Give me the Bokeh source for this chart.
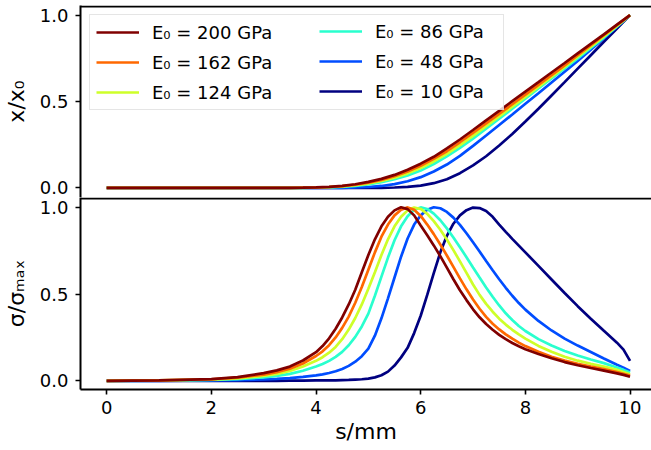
from bokeh.plotting import figure
from bokeh.layouts import column
from bokeh.models import Span, Legend, LegendItem, FixedTicker, NumeralTickFormatter, Range1d
from bokeh.embed import file_html
from bokeh.resources import INLINE

FONT = "DejaVu Sans"

moduli_gpa = [200, 162, 124, 86, 48, 10]
colors = ["#800000", "#ff6800", "#ceff29", "#29ffce", "#004dff", "#000080"]

# ---- upper panel: normalised displacement x/x0 against s (mm)
s_disp = [0, 1, 2, 2.5, 3, 3.25, 3.5, 3.75, 4, 4.25, 4.5, 4.75, 5, 5.25, 5.5, 5.75,
          6, 6.25, 6.5, 6.75, 7, 7.25, 7.5, 7.75, 8, 8.25, 8.5, 8.75, 9, 9.25, 9.5, 9.75, 10]
disp_200 = [0, 0, 0, 0, 0, 0, 0, 0.001, 0.003, 0.006, 0.012, 0.021, 0.035, 0.052, 0.075, 0.105,
            0.14, 0.18, 0.228, 0.28, 0.335, 0.391, 0.446, 0.502, 0.557, 0.612, 0.668, 0.723,
            0.779, 0.834, 0.889, 0.945, 1.0]
disp_162 = [0, 0, 0, 0, 0, 0, 0, 0.001, 0.002, 0.005, 0.01, 0.018, 0.03, 0.046, 0.067, 0.095,
            0.128, 0.168, 0.212, 0.264, 0.318, 0.373, 0.428, 0.484, 0.54, 0.596, 0.652, 0.709,
            0.768, 0.826, 0.884, 0.942, 1.0]
disp_124 = [0, 0, 0, 0, 0, 0, 0, 0, 0.002, 0.004, 0.008, 0.015, 0.025, 0.04, 0.059, 0.084,
            0.115, 0.153, 0.197, 0.248, 0.301, 0.357, 0.413, 0.47, 0.527, 0.585, 0.642, 0.7,
            0.759, 0.818, 0.877, 0.938, 1.0]
disp_86 = [0, 0, 0, 0, 0, 0, 0, 0, 0.001, 0.003, 0.006, 0.012, 0.02, 0.033, 0.05, 0.072,
           0.1, 0.138, 0.182, 0.232, 0.285, 0.342, 0.4, 0.458, 0.516, 0.575, 0.633, 0.692,
           0.75, 0.81, 0.87, 0.935, 1.0]
disp_48 = [0, 0, 0, 0, 0, 0, 0, 0, 0, 0, 0, 0.002, 0.005, 0.011, 0.022, 0.038,
           0.062, 0.095, 0.135, 0.185, 0.243, 0.303, 0.364, 0.425, 0.487, 0.548, 0.61, 0.672,
           0.735, 0.8, 0.866, 0.933, 1.0]
disp_10 = [0, 0, 0, 0, 0, 0, 0, 0, 0, 0, 0, 0, 0, 0, 0.002, 0.006,
           0.013, 0.027, 0.05, 0.085, 0.13, 0.183, 0.245, 0.312, 0.384, 0.458, 0.535, 0.612,
           0.69, 0.768, 0.846, 0.923, 1.0]

# ---- lower panel: normalised stress sigma/sigma_max against s (mm)
s_stress = [0, 1, 2, 2.5, 3, 3.25, 3.5, 3.75,
            4, 4.125, 4.25, 4.375, 4.5, 4.625, 4.75, 4.875, 5, 5.125, 5.25, 5.375,
            5.5, 5.625, 5.75, 5.875, 6, 6.125, 6.25, 6.375, 6.5, 6.625, 6.75, 6.875,
            7, 7.125, 7.25, 7.375, 7.5, 7.625, 7.75, 7.875, 8,
            8.25, 8.5, 8.75, 9, 9.25, 9.5, 9.75, 9.875, 10]
stress_200 = [0, 0.003, 0.01, 0.021, 0.044, 0.06, 0.082, 0.117,
              0.165, 0.2, 0.245, 0.3, 0.365, 0.44, 0.525, 0.625, 0.725, 0.815, 0.89, 0.945,
              0.982, 1.0, 0.989, 0.953, 0.895, 0.838, 0.78, 0.718, 0.652, 0.585, 0.522, 0.465,
              0.412, 0.366, 0.327, 0.294, 0.265, 0.24, 0.218, 0.199, 0.182,
              0.155, 0.13, 0.108, 0.09, 0.074, 0.059, 0.043, 0.034, 0.023]
stress_162 = [0, 0.003, 0.009, 0.018, 0.036, 0.05, 0.07, 0.1,
              0.143, 0.17, 0.205, 0.25, 0.305, 0.37, 0.45, 0.54, 0.64, 0.74, 0.83, 0.9,
              0.953, 0.986, 0.999, 0.985, 0.95, 0.9, 0.845, 0.785, 0.722, 0.656, 0.59, 0.527,
              0.468, 0.415, 0.368, 0.329, 0.296, 0.268, 0.243, 0.22, 0.2,
              0.167, 0.139, 0.117, 0.098, 0.082, 0.068, 0.051, 0.041, 0.03]
stress_124 = [0, 0.002, 0.007, 0.014, 0.028, 0.04, 0.057, 0.082,
              0.115, 0.136, 0.162, 0.195, 0.24, 0.295, 0.362, 0.44, 0.53, 0.625, 0.725, 0.815,
              0.89, 0.945, 0.982, 0.998, 0.99, 0.962, 0.92, 0.87, 0.814, 0.753, 0.688, 0.622,
              0.555, 0.495, 0.443, 0.398, 0.358, 0.324, 0.294, 0.267, 0.243,
              0.201, 0.167, 0.139, 0.116, 0.098, 0.082, 0.063, 0.051, 0.038]
stress_86 = [0, 0.001, 0.005, 0.01, 0.02, 0.028, 0.04, 0.058,
             0.082, 0.097, 0.115, 0.138, 0.167, 0.205, 0.253, 0.313, 0.387, 0.49, 0.6, 0.71,
             0.81, 0.89, 0.948, 0.985, 0.999, 0.99, 0.963, 0.925, 0.878, 0.826, 0.77, 0.712,
             0.653, 0.595, 0.538, 0.484, 0.434, 0.389, 0.35, 0.316, 0.287,
             0.24, 0.203, 0.172, 0.146, 0.123, 0.102, 0.077, 0.063, 0.048]
stress_48 = [0, 0, 0.002, 0.004, 0.008, 0.011, 0.016, 0.023,
             0.031, 0.037, 0.045, 0.055, 0.068, 0.086, 0.11, 0.142, 0.185, 0.26, 0.36, 0.475,
             0.595, 0.715, 0.82, 0.9, 0.953, 0.986, 1.0, 0.994, 0.973, 0.94, 0.898, 0.85,
             0.798, 0.745, 0.69, 0.637, 0.585, 0.536, 0.49, 0.448, 0.41,
             0.345, 0.29, 0.243, 0.203, 0.166, 0.129, 0.093, 0.076, 0.057]
stress_10 = [0, 0, 0, 0, 0, 0, 0.001, 0.001,
             0.002, 0.002, 0.003, 0.003, 0.004, 0.005, 0.007, 0.009, 0.013, 0.02, 0.032, 0.053,
             0.088, 0.135, 0.19, 0.275, 0.375, 0.495, 0.62, 0.74, 0.835, 0.905, 0.953, 0.983,
             0.998, 0.995, 0.978, 0.945, 0.9, 0.858, 0.818, 0.779, 0.74,
             0.662, 0.584, 0.506, 0.43, 0.358, 0.288, 0.22, 0.18, 0.115]

displacements = [disp_200, disp_162, disp_124, disp_86, disp_48, disp_10]
stresses = [stress_200, stress_162, stress_124, stress_86, stress_48, stress_10]

x_ticks = [0, 2, 4, 6, 8, 10]
y_ticks = [0.0, 0.5, 1.0]


def make_panel(height, top, bottom, y_range, ylabel):
    p = figure(width=651, height=height, output_backend="svg", toolbar_location=None,
               x_range=Range1d(-0.5, 10.41), y_range=y_range,
               min_border_left=80, min_border_right=0,
               min_border_top=top, min_border_bottom=bottom)
    p.outline_line_color = None
    p.grid.visible = False
    p.background_fill_color = "white"
    p.border_fill_color = "white"

    ya = p.yaxis[0]
    ya.ticker = FixedTicker(ticks=y_ticks)
    ya.formatter = NumeralTickFormatter(format="0.0")
    ya.axis_label = ylabel
    ya.axis_label_text_font = FONT
    ya.axis_label_text_font_size = "22px"
    ya.axis_label_text_font_style = "normal"
    ya.axis_label_text_color = "black"
    ya.axis_label_standoff = 8
    ya.major_label_text_font = FONT
    ya.major_label_text_font_size = "18px"
    ya.major_label_text_color = "black"
    ya.major_label_standoff = 7
    ya.axis_line_width = 2
    ya.major_tick_line_width = 1.6
    ya.major_tick_in = 0
    ya.major_tick_out = 5
    ya.minor_tick_line_color = None
    return p


top = make_panel(197, 5, 0, Range1d(-0.0558, 1.0558), "x/x₀")
top.xaxis.visible = False
top.add_layout(Span(location=1.05, dimension="width", line_color="black", line_width=2))

bot = make_panel(253, 0, 61, Range1d(-0.05, 1.056), "σ/σₘₐₓ")
bot.add_layout(Span(location=1.05, dimension="width", line_color="black", line_width=2))
xa = bot.xaxis[0]
xa.ticker = FixedTicker(ticks=x_ticks)
xa.axis_label = "s/mm"
xa.axis_label_text_font = FONT
xa.axis_label_text_font_size = "22px"
xa.axis_label_text_font_style = "normal"
xa.axis_label_text_color = "black"
xa.axis_label_standoff = 2
xa.major_label_text_font = FONT
xa.major_label_text_font_size = "18px"
xa.major_label_text_color = "black"
xa.major_label_standoff = 6
xa.axis_line_width = 2
xa.major_tick_line_width = 1.6
xa.major_tick_in = 0
xa.major_tick_out = 5
xa.minor_tick_line_color = None

handles = {}
# stiffest curve is drawn last so it sits on top
for E, col, d, st in reversed(list(zip(moduli_gpa, colors, displacements, stresses))):
    handles[E] = top.line(s_disp, d, line_color=col, line_width=2.7)
    bot.line(s_stress, st, line_color=col, line_width=2.7)


def legend_column(moduli, offset, label_width, boxed):
    lg = Legend(items=[LegendItem(label=f"E₀ = {E} GPa", renderers=[handles[E]]) for E in moduli],
                location=offset)
    lg.label_text_font = FONT
    lg.label_text_font_size = "18px"
    lg.label_text_color = "black"
    lg.glyph_width = 43
    lg.glyph_height = 22
    lg.label_height = 22
    lg.label_width = label_width
    lg.label_standoff = 13
    lg.spacing = 8
    lg.padding = 6
    lg.margin = 0
    if boxed:
        lg.border_line_color = "#cccccc"
        lg.border_line_width = 1
        lg.background_fill_color = "white"
        lg.background_fill_alpha = 0.8
    else:
        lg.border_line_color = None
        lg.background_fill_color = None
    return lg


# two-column legend: the first column carries the shared frame
top.add_layout(legend_column(moduli_gpa[:3], (9, 87), 345, True))
top.add_layout(legend_column(moduli_gpa[3:], (239, 95), 258, False))

layout = column(top, bot, spacing=0)
open("out.html", "w").write(file_html(layout, INLINE))
